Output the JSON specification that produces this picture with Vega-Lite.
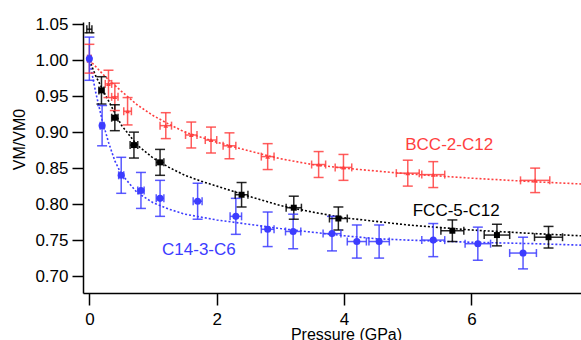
{
  "$schema": "https://vega.github.io/schema/vega-lite/v6.json",
  "width": 498,
  "height": 271,
  "autosize": {"type": "none"},
  "padding": {"left": 83, "top": 22, "right": 0, "bottom": 47},
  "background": "white",
  "view": {"stroke": null},
  "config": {
    "font": "Liberation Sans",
    "axis": {"grid": false, "domainColor": "black", "domainWidth": 1.5, "tickColor": "black", "tickWidth": 1.5, "tickSize": 11, "labelFont": "Liberation Sans", "labelFontSize": 17, "labelColor": "black", "titleFont": "Liberation Sans", "titleFontSize": 16, "titleFontWeight": "normal", "titleColor": "black"}
  },
  "datasets": {
    "pts": [
      {"series": "BCC", "P": 0.0, "V": 1.002, "Plo": -0.03, "Phi": 0.03, "Vlo": 0.982, "Vhi": 1.022},
      {"series": "BCC", "P": 0.30, "V": 0.967, "Plo": 0.25, "Phi": 0.35, "Vlo": 0.948, "Vhi": 0.986},
      {"series": "BCC", "P": 0.40, "V": 0.949, "Plo": 0.35, "Phi": 0.45, "Vlo": 0.930, "Vhi": 0.968},
      {"series": "BCC", "P": 0.60, "V": 0.929, "Plo": 0.54, "Phi": 0.66, "Vlo": 0.910, "Vhi": 0.948},
      {"series": "BCC", "P": 1.20, "V": 0.909, "Plo": 1.11, "Phi": 1.29, "Vlo": 0.891, "Vhi": 0.927},
      {"series": "BCC", "P": 1.60, "V": 0.896, "Plo": 1.51, "Phi": 1.69, "Vlo": 0.878, "Vhi": 0.914},
      {"series": "BCC", "P": 1.91, "V": 0.889, "Plo": 1.82, "Phi": 2.00, "Vlo": 0.871, "Vhi": 0.907},
      {"series": "BCC", "P": 2.20, "V": 0.881, "Plo": 2.10, "Phi": 2.30, "Vlo": 0.863, "Vhi": 0.899},
      {"series": "BCC", "P": 2.80, "V": 0.866, "Plo": 2.70, "Phi": 2.90, "Vlo": 0.848, "Vhi": 0.884},
      {"series": "BCC", "P": 3.60, "V": 0.855, "Plo": 3.49, "Phi": 3.71, "Vlo": 0.837, "Vhi": 0.873},
      {"series": "BCC", "P": 3.99, "V": 0.851, "Plo": 3.86, "Phi": 4.12, "Vlo": 0.833, "Vhi": 0.869},
      {"series": "BCC", "P": 5.00, "V": 0.843, "Plo": 4.82, "Phi": 5.18, "Vlo": 0.825, "Vhi": 0.861},
      {"series": "BCC", "P": 5.40, "V": 0.841, "Plo": 5.22, "Phi": 5.58, "Vlo": 0.823, "Vhi": 0.859},
      {"series": "BCC", "P": 7.00, "V": 0.833, "Plo": 6.77, "Phi": 7.23, "Vlo": 0.816, "Vhi": 0.850},
      {"series": "FCC", "P": 0.0, "V": 1.043, "Plo": -0.04, "Phi": 0.04, "Vlo": 1.038, "Vhi": 1.055},
      {"series": "FCC", "P": 0.19, "V": 0.958, "Plo": 0.15, "Phi": 0.23, "Vlo": 0.939, "Vhi": 0.977},
      {"series": "FCC", "P": 0.40, "V": 0.920, "Plo": 0.35, "Phi": 0.45, "Vlo": 0.902, "Vhi": 0.938},
      {"series": "FCC", "P": 0.70, "V": 0.882, "Plo": 0.64, "Phi": 0.76, "Vlo": 0.864, "Vhi": 0.900},
      {"series": "FCC", "P": 1.11, "V": 0.858, "Plo": 1.05, "Phi": 1.17, "Vlo": 0.840, "Vhi": 0.876},
      {"series": "FCC", "P": 2.39, "V": 0.813, "Plo": 2.29, "Phi": 2.49, "Vlo": 0.796, "Vhi": 0.830},
      {"series": "FCC", "P": 3.21, "V": 0.795, "Plo": 3.09, "Phi": 3.33, "Vlo": 0.779, "Vhi": 0.811},
      {"series": "FCC", "P": 3.91, "V": 0.780, "Plo": 3.77, "Phi": 4.05, "Vlo": 0.764, "Vhi": 0.796},
      {"series": "FCC", "P": 5.70, "V": 0.763, "Plo": 5.52, "Phi": 5.88, "Vlo": 0.748, "Vhi": 0.778},
      {"series": "FCC", "P": 6.40, "V": 0.757, "Plo": 6.20, "Phi": 6.60, "Vlo": 0.742, "Vhi": 0.772},
      {"series": "FCC", "P": 7.21, "V": 0.754, "Plo": 6.99, "Phi": 7.43, "Vlo": 0.739, "Vhi": 0.769},
      {"series": "C14", "P": 0.0, "V": 1.002, "Plo": -0.02, "Phi": 0.02, "Vlo": 0.972, "Vhi": 1.032},
      {"series": "C14", "P": 0.20, "V": 0.909, "Plo": 0.17, "Phi": 0.23, "Vlo": 0.881, "Vhi": 0.937},
      {"series": "C14", "P": 0.50, "V": 0.840, "Plo": 0.46, "Phi": 0.54, "Vlo": 0.815, "Vhi": 0.865},
      {"series": "C14", "P": 0.81, "V": 0.819, "Plo": 0.76, "Phi": 0.86, "Vlo": 0.794, "Vhi": 0.844},
      {"series": "C14", "P": 1.11, "V": 0.808, "Plo": 1.05, "Phi": 1.17, "Vlo": 0.783, "Vhi": 0.833},
      {"series": "C14", "P": 1.70, "V": 0.804, "Plo": 1.63, "Phi": 1.77, "Vlo": 0.779, "Vhi": 0.829},
      {"series": "C14", "P": 2.30, "V": 0.783, "Plo": 2.21, "Phi": 2.39, "Vlo": 0.758, "Vhi": 0.808},
      {"series": "C14", "P": 2.80, "V": 0.765, "Plo": 2.70, "Phi": 2.90, "Vlo": 0.741, "Vhi": 0.789},
      {"series": "C14", "P": 3.20, "V": 0.762, "Plo": 3.08, "Phi": 3.32, "Vlo": 0.738, "Vhi": 0.786},
      {"series": "C14", "P": 3.81, "V": 0.759, "Plo": 3.67, "Phi": 3.95, "Vlo": 0.735, "Vhi": 0.783},
      {"series": "C14", "P": 4.20, "V": 0.748, "Plo": 4.05, "Phi": 4.35, "Vlo": 0.725, "Vhi": 0.771},
      {"series": "C14", "P": 4.55, "V": 0.748, "Plo": 4.39, "Phi": 4.71, "Vlo": 0.725, "Vhi": 0.771},
      {"series": "C14", "P": 5.40, "V": 0.750, "Plo": 5.22, "Phi": 5.58, "Vlo": 0.727, "Vhi": 0.773},
      {"series": "C14", "P": 6.10, "V": 0.745, "Plo": 5.90, "Phi": 6.30, "Vlo": 0.722, "Vhi": 0.768},
      {"series": "C14", "P": 6.81, "V": 0.732, "Plo": 6.60, "Phi": 7.02, "Vlo": 0.710, "Vhi": 0.754}
    ],
    "curves": [
      {"series": "BCC", "P": 0, "V": 1.0}, {"series": "BCC", "P": 0.1, "V": 0.991}, {"series": "BCC", "P": 0.25, "V": 0.977},
      {"series": "BCC", "P": 0.5, "V": 0.957}, {"series": "BCC", "P": 0.75, "V": 0.938}, {"series": "BCC", "P": 1.0, "V": 0.923},
      {"series": "BCC", "P": 1.25, "V": 0.911}, {"series": "BCC", "P": 1.5, "V": 0.900}, {"series": "BCC", "P": 2.0, "V": 0.886},
      {"series": "BCC", "P": 2.5, "V": 0.874}, {"series": "BCC", "P": 3.0, "V": 0.863}, {"series": "BCC", "P": 3.5, "V": 0.855},
      {"series": "BCC", "P": 4.0, "V": 0.850}, {"series": "BCC", "P": 4.5, "V": 0.846}, {"series": "BCC", "P": 5.0, "V": 0.842},
      {"series": "BCC", "P": 6.0, "V": 0.836}, {"series": "BCC", "P": 7.0, "V": 0.831}, {"series": "BCC", "P": 7.72, "V": 0.828},
      {"series": "FCC", "P": 0, "V": 1.0}, {"series": "FCC", "P": 0.1, "V": 0.978}, {"series": "FCC", "P": 0.25, "V": 0.952},
      {"series": "FCC", "P": 0.5, "V": 0.910}, {"series": "FCC", "P": 0.75, "V": 0.882}, {"series": "FCC", "P": 1.0, "V": 0.864},
      {"series": "FCC", "P": 1.25, "V": 0.851}, {"series": "FCC", "P": 1.5, "V": 0.840}, {"series": "FCC", "P": 1.75, "V": 0.832},
      {"series": "FCC", "P": 2.0, "V": 0.825}, {"series": "FCC", "P": 2.5, "V": 0.811}, {"series": "FCC", "P": 3.0, "V": 0.798},
      {"series": "FCC", "P": 3.5, "V": 0.789}, {"series": "FCC", "P": 4.0, "V": 0.781}, {"series": "FCC", "P": 4.5, "V": 0.776},
      {"series": "FCC", "P": 5.0, "V": 0.771}, {"series": "FCC", "P": 6.0, "V": 0.764}, {"series": "FCC", "P": 7.0, "V": 0.759},
      {"series": "FCC", "P": 7.72, "V": 0.756},
      {"series": "C14", "P": 0, "V": 1.0}, {"series": "C14", "P": 0.1, "V": 0.955}, {"series": "C14", "P": 0.2, "V": 0.917},
      {"series": "C14", "P": 0.3, "V": 0.886}, {"series": "C14", "P": 0.4, "V": 0.860}, {"series": "C14", "P": 0.5, "V": 0.842},
      {"series": "C14", "P": 0.75, "V": 0.816}, {"series": "C14", "P": 1.0, "V": 0.802}, {"series": "C14", "P": 1.25, "V": 0.793},
      {"series": "C14", "P": 1.5, "V": 0.786}, {"series": "C14", "P": 2.0, "V": 0.778}, {"series": "C14", "P": 2.5, "V": 0.772},
      {"series": "C14", "P": 3.0, "V": 0.766}, {"series": "C14", "P": 3.5, "V": 0.761}, {"series": "C14", "P": 4.0, "V": 0.756},
      {"series": "C14", "P": 4.5, "V": 0.752}, {"series": "C14", "P": 5.0, "V": 0.750}, {"series": "C14", "P": 6.0, "V": 0.747},
      {"series": "C14", "P": 7.0, "V": 0.745}, {"series": "C14", "P": 7.72, "V": 0.743}
    ],
    "labels": [
      {"series": "BCC", "P": 5.65, "V": 0.8826, "text": "BCC-2-C12"},
      {"series": "FCC", "P": 5.76, "V": 0.791, "text": "FCC-5-C12"},
      {"series": "C14", "P": 1.72, "V": 0.736, "text": "C14-3-C6"}
    ]
  },
  "encoding": {
    "x": {"field": "P", "type": "quantitative", "scale": {"domain": [-0.1, 7.72], "nice": false, "zero": false},
      "axis": {"values": [0, 2, 4, 6], "title": "Pressure (GPa)", "labelPadding": 6, "titlePadding": -1, "titleX": 263, "tickSize": 12}},
    "y": {"field": "V", "type": "quantitative", "scale": {"domain": [0.6765, 1.053], "nice": false, "zero": false},
      "axis": {"values": [0.70, 0.75, 0.80, 0.85, 0.90, 0.95, 1.00, 1.05], "format": ".2f", "title": "VM/VM0", "labelPadding": 4, "titleX": -64, "titleY": 117, "titleBaseline": "middle", "titleAngle": -90}},
    "color": {"field": "series", "type": "nominal", "legend": null,
      "scale": {"domain": ["BCC", "FCC", "C14"], "range": ["#ff3f3f", "#000000", "#3c3cff"]}}
  },
  "layer": [
    {"data": {"name": "curves"}, "mark": {"type": "line", "strokeDash": [2, 2], "strokeWidth": 1.6, "clip": true}},
    {"data": {"name": "pts"}, "mark": {"type": "rule", "strokeWidth": 1.5, "opacity": 0.85, "clip": true},
      "encoding": {"y": {"field": "Vlo", "type": "quantitative"}, "y2": {"field": "Vhi"}}},
    {"data": {"name": "pts"}, "mark": {"type": "rule", "strokeWidth": 1.5, "opacity": 0.85, "clip": true},
      "encoding": {"x": {"field": "Plo", "type": "quantitative"}, "x2": {"field": "Phi"}}},
    {"data": {"name": "pts"}, "mark": {"type": "tick", "orient": "horizontal", "size": 10, "thickness": 1.5, "opacity": 0.85, "clip": true},
      "encoding": {"y": {"field": "Vlo", "type": "quantitative"}}},
    {"data": {"name": "pts"}, "mark": {"type": "tick", "orient": "horizontal", "size": 10, "thickness": 1.5, "opacity": 0.85, "clip": true},
      "encoding": {"y": {"field": "Vhi", "type": "quantitative"}}},
    {"data": {"name": "pts"}, "mark": {"type": "tick", "orient": "vertical", "size": 8, "thickness": 1.5, "opacity": 0.85, "clip": true},
      "encoding": {"x": {"field": "Plo", "type": "quantitative"}}},
    {"data": {"name": "pts"}, "mark": {"type": "tick", "orient": "vertical", "size": 8, "thickness": 1.5, "opacity": 0.85, "clip": true},
      "encoding": {"x": {"field": "Phi", "type": "quantitative"}}},
    {"data": {"name": "pts"}, "transform": [{"filter": "datum.V < 1.03"}],
      "mark": {"type": "point", "filled": true, "opacity": 1, "clip": true},
      "encoding": {
        "shape": {"field": "series", "type": "nominal", "legend": null, "scale": {"domain": ["BCC", "FCC", "C14"], "range": ["triangle-up", "square", "circle"]}},
        "size": {"field": "series", "type": "nominal", "legend": null, "scale": {"domain": ["BCC", "FCC", "C14"], "range": [22, 50, 36]}}
      }},
    {"data": {"name": "labels"}, "mark": {"type": "text", "fontSize": 17, "font": "Liberation Sans", "align": "center", "baseline": "middle"},
      "encoding": {"text": {"field": "text", "type": "nominal"}}}
  ]
}
